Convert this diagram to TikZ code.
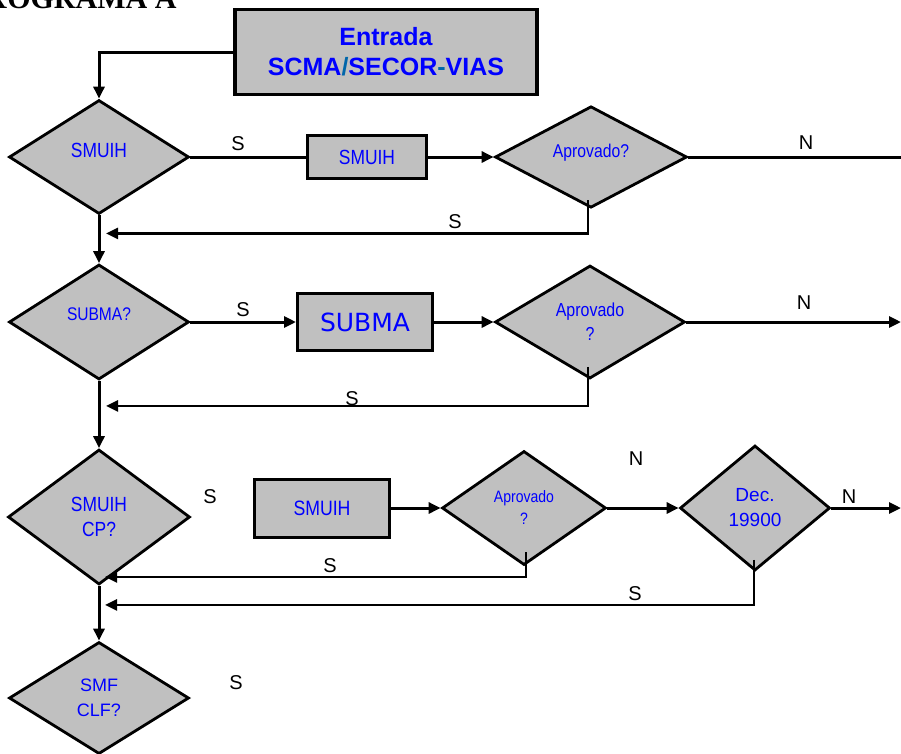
\documentclass[tikz,border=0pt]{standalone}
\usepackage{fontspec}
\setmainfont{Liberation Sans}
\newfontfamily\titlefont{Liberation Serif}
\newfontfamily\verdfont{DejaVu Sans}
\newfontfamily\narrowfont[FakeStretch=0.85]{Liberation Sans}
\usetikzlibrary{calc}
\usetikzlibrary{shapes.geometric, arrows.meta}
\definecolor{boxgray}{RGB}{192,192,192}
\definecolor{slashc}{RGB}{0,102,170}
\tikzstyle{decnode} = [diamond, 
inner sep=0pt, 
text centered, 
align=center, 
text=blue, 
line width=2.8pt, 
draw=black, 
fill=boxgray]
\tikzstyle{stepnode} = [rectangle, 
inner sep=0pt, 
text centered, 
text=blue, 
line width=3pt, 
draw=black, 
fill=boxgray]
\tikzstyle{arrow} = [line width=3pt,-{Triangle[length=12pt,width=11pt]}]
\tikzstyle{plainline} = [line width=3pt]
\tikzstyle{backarrow} = [line width=2.5pt,-{Triangle[length=12pt,width=11pt]}]
\tikzstyle{sn} = [font=\fontsize{20}{22}\selectfont]

\begin{document}
\begin{tikzpicture}[x=1pt, y=-1pt]
    \useasboundingbox (0,0) rectangle (901,753);

    \node (title) [anchor=base east, font=\titlefont\bfseries\fontsize{30}{32}\selectfont] at (180,8) {FLUXOGRAMA A};

    \node (entrada) [stepnode, line width=3.6pt, minimum width=302, minimum height=85, align=center,
      font=\bfseries\fontsize{25}{30}\selectfont] at (386,52)
      {Entrada\\SCMA{\color{slashc}/}SECOR{\color{slashc}-}VIAS};

    % row 1
    \node (d1) [decnode, minimum width=180, minimum height=114, text depth=14pt, font=\narrowfont\fontsize{20.5}{22}\selectfont] at (99,157) {SMUIH};
    \node (r1) [stepnode, minimum width=119, minimum height=43, font=\narrowfont\fontsize{20.5}{22}\selectfont] at (367,157) {SMUIH};
    \node (a1) [decnode, minimum width=192, minimum height=100, text depth=12pt, font=\narrowfont\fontsize{18.5}{20}\selectfont] at (591,157) {Aprovado?};
    \coordinate (n1) at (901,157);

    % row 2
    \node (d2) [decnode, minimum width=180, minimum height=115, text depth=16pt, font=\narrowfont\fontsize{18.3}{20}\selectfont] at (99,322) {SUBMA?};
    \node (r2) [stepnode, minimum width=135, minimum height=57, font=\verdfont\fontsize{25}{28}\selectfont] at (365,322) {SUBMA};
    \node (a2) [decnode, minimum width=190, minimum height=113, font=\narrowfont\fontsize{18.8}{24}\selectfont] at (590,322) {Aprovado\\?};
    \coordinate (n2) at (901,322);

    % row 3
    \node (d3) [decnode, minimum width=182, minimum height=135, font=\narrowfont\fontsize{20.5}{25}\selectfont] at (99,517) {SMUIH\\CP?};
    \node (r3) [stepnode, minimum width=135, minimum height=58, font=\narrowfont\fontsize{20.8}{22}\selectfont] at (322,508) {SMUIH};
    \node (a3) [decnode, minimum width=164, minimum height=114, font=\narrowfont\fontsize{16.5}{22}\selectfont] at (524,508) {Aprovado\\?};
    \node (dec) [decnode, minimum width=150, minimum height=125, font=\fontsize{19}{25}\selectfont] at (755,508) {Dec.\\19900};
    \coordinate (n3) at (901,508);

    % row 4
    \node (d4) [decnode, minimum width=180, minimum height=112, font=\fontsize{18}{25}\selectfont] at (99,698) {SMF\\CLF?};

    % labels
    \node (s1) [sn] at (238,144) {S};
    \node (nl1) [sn] at (806,143) {N};
    \node (s1b) [sn] at (455,222) {S};
    \node (s2) [sn] at (243,310) {S};
    \node (nl2) [sn] at (804,303) {N};
    \node (s2b) [sn] at (352,399) {S};
    \node (s3) [sn] at (210,497) {S};
    \node (nl3) [sn] at (636,459) {N};
    \node (nl3b) [sn] at (849,497) {N};
    \node (s3b) [sn] at (330,566) {S};
    \node (s3c) [sn] at (635,594) {S};
    \node (s4) [sn] at (236,683) {S};

    % main flow
    \draw [arrow] (entrada.west) -| (d1.north);
    \draw [plainline] (d1.east) -- (r1.west);
    \draw [arrow] (r1.east) -- (a1.west);
    \draw [plainline] (a1.east) -- (n1);
    \draw [arrow] (d1.south) -- (d2.north);

    \draw [arrow] (d2.east) -- (r2.west);
    \draw [arrow] (r2.east) -- (a2.west);
    \draw [arrow] (a2.east) -- (n2);
    \draw [arrow] (d2.south) -- (d3.north);

    \draw [arrow] (r3.east) -- (a3.west);
    \draw [arrow] (a3.east) -- (dec.west);
    \draw [arrow] (dec.east) -- (n3);
    \draw [arrow] (d3.south) -- (d4.north);

    % return arcs
    \draw [backarrow] ($(a1.south)+(-3,-9)$) |- ($(d1.south)+(7,18)$);
    \draw [backarrow] ($(a2.south)+(-2,-13)$) |- ($(d2.south)+(7,25)$);
    \draw [backarrow] ($(a3.south)+(2,-14)$) |- ($(d3.south)+(6,-9)$);
    \draw [backarrow] ($(dec.south)+(-1,-12)$) |- ($(d3.south)+(6,19)$);
  \end{tikzpicture}
\end{document}
